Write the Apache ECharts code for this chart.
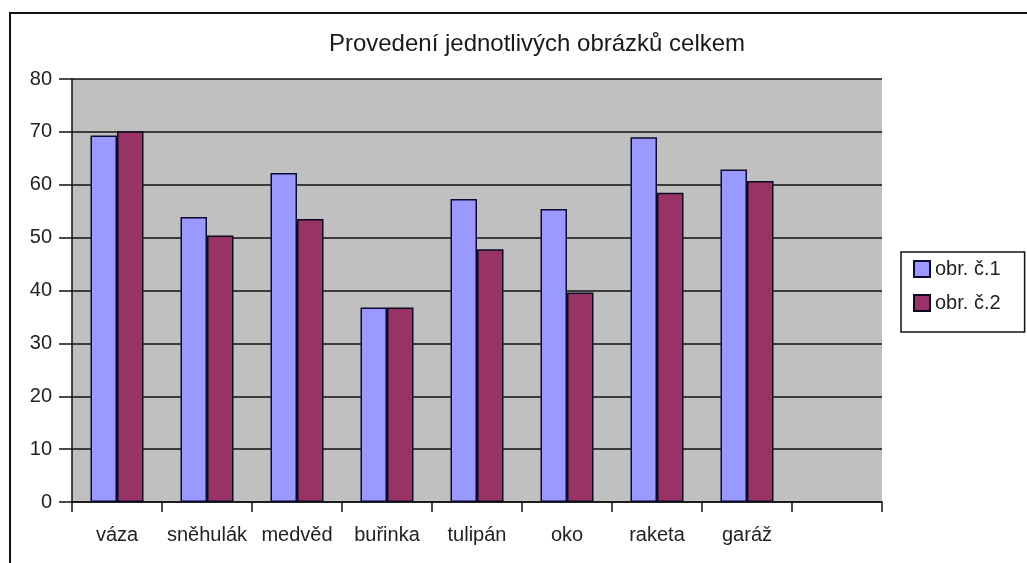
<!DOCTYPE html>
<html>
<head>
<meta charset="utf-8">
<script src="https://cdn.jsdelivr.net/npm/echarts@6/dist/echarts.min.js"></script>
<style>
  html, body { margin: 0; padding: 0; background: #ffffff; }
  #chart { width: 1027px; height: 563px; }
</style>
</head>
<body>
<div id="chart"></div>
<script>
// Kategorie obrázků (poslední pozice zůstává prázdná)
const categories = ['váza', 'sněhulák', 'medvěd', 'buřinka', 'tulipán', 'oko', 'raketa', 'garáž', ''];
const seriesNames = ['obr. č.1', 'obr. č.2'];
const obr1 = [69.3, 53.9, 62.2, 36.8, 57.3, 55.4, 69.0, 62.9, null];
const obr2 = [70.1, 50.4, 53.5, 36.8, 47.8, 39.6, 58.5, 60.7, null];
const yTicks = { min: 0, max: 80, interval: 10 };

const FONT = '"Liberation Sans", Arial, sans-serif';
const chart = echarts.init(document.getElementById('chart'), null, { renderer: 'canvas' });

chart.setOption({
  backgroundColor: '#ffffff',
  animation: false,
  textStyle: { fontFamily: FONT },
  title: {
    text: 'Provedení jednotlivých obrázků celkem',
    left: 532, top: 27, textAlign: 'center',
    textStyle: { fontFamily: FONT, fontSize: 24, fontWeight: 'normal', color: '#1a1a1a' }
  },
  graphic: [{
    type: 'rect', z: -1,
    shape: { x: 10, y: 13, width: 1040, height: 580 },
    style: { fill: 'none', stroke: '#111111', lineWidth: 2 }
  }],
  legend: {
    orient: 'vertical',
    left: 901, top: 252,
    padding: [7, 24, 19, 12],
    itemWidth: 16, itemHeight: 16, itemGap: 14,
    borderColor: '#111111', borderWidth: 1.5,
    backgroundColor: '#ffffff',
    textStyle: { fontFamily: FONT, fontSize: 20, color: '#222222', lineHeight: 20 },
    data: seriesNames.map(n => ({ name: n, icon: 'rect' }))
  },
  grid: { left: 72, top: 79, right: 145, bottom: 61, show: true, backgroundColor: '#c0c0c0', borderWidth: 0 },
  xAxis: {
    type: 'category',
    data: categories,
    boundaryGap: true,
    axisLine: { lineStyle: { color: '#111111', width: 1.5 } },
    axisTick: { show: true, length: 10, alignWithLabel: false, lineStyle: { color: '#111111', width: 1.5 } },
    axisLabel: { margin: 23, fontSize: 20, color: '#222222', fontFamily: FONT, interval: 0 }
  },
  yAxis: {
    type: 'value',
    min: yTicks.min, max: yTicks.max, interval: yTicks.interval,
    axisLine: { show: true, lineStyle: { color: '#111111', width: 1.5 } },
    axisTick: { show: true, length: 13, lineStyle: { color: '#111111', width: 1.5 } },
    axisLabel: { margin: 20, fontSize: 20, color: '#222222', fontFamily: FONT },
    splitLine: { show: true, lineStyle: { color: '#111111', width: 1.5 } }
  },
  series: [
    {
      name: seriesNames[0], type: 'bar', data: obr1,
      barWidth: 26.5, barGap: '0%',
      itemStyle: { color: '#9999ff', borderColor: '#0a0a30', borderWidth: 1.5 }
    },
    {
      name: seriesNames[1], type: 'bar', data: obr2,
      barWidth: 26.5, barGap: '0%',
      itemStyle: { color: '#993366', borderColor: '#0a0a20', borderWidth: 1.5 }
    }
  ]
});
</script>
</body>
</html>
